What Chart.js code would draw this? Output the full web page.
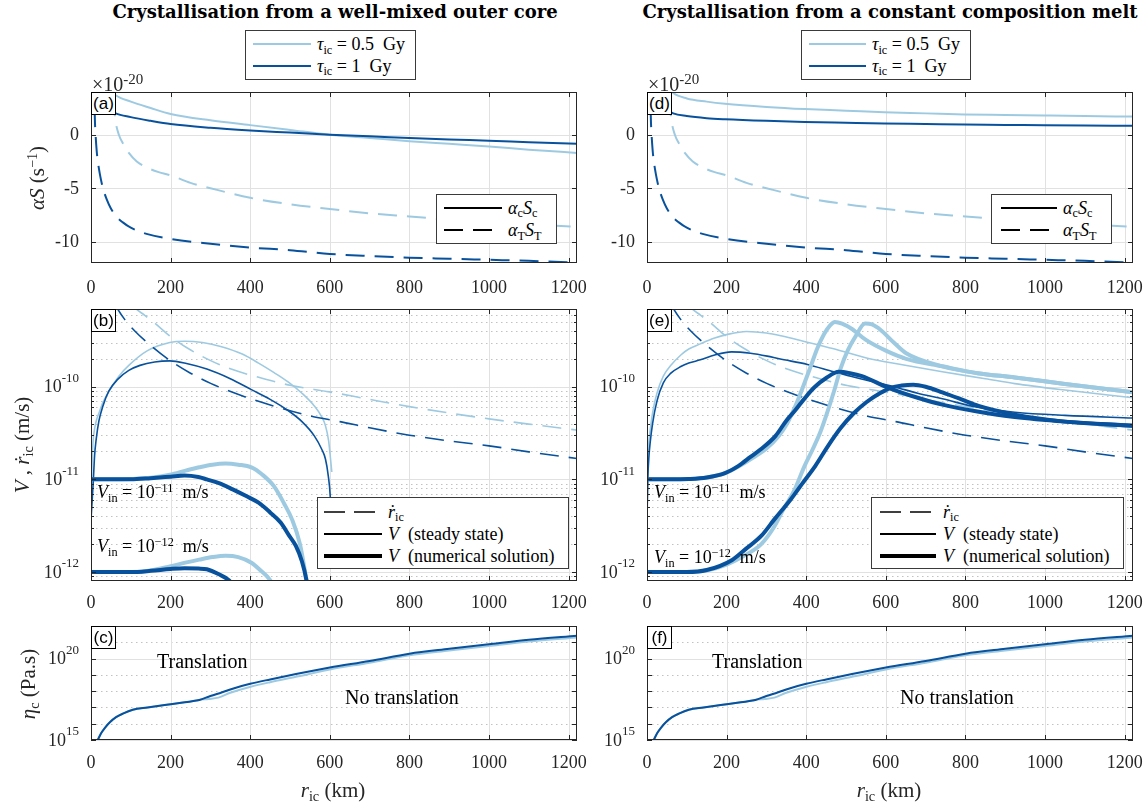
<!DOCTYPE html>
<html>
<meta charset="UTF-8">
<title>Inner core crystallisation</title>
<script src="https://cdn.jsdelivr.net/npm/chart.js"></script>
<style>
	html, body { margin: 0; padding: 0; background: #fff; overflow: hidden; }
	#fig { position: relative; width: 1147px; height: 807px; font-family: "Liberation Serif", serif; color: #262626; }
	#fig canvas { position: absolute; }
	.txt { position: absolute; white-space: nowrap; line-height: 1; }
	.mid { transform: translate(-50%, -50%); }
	.left { transform: translate(0, -50%); }
	.title { font-family: "DejaVu Serif", serif; font-weight: bold; font-size: 18px; color: #000; }
	.ylab { font-size: 21px; transform: translate(-50%, -50%) rotate(-90deg); }
	.xlab { font-size: 21px; }
	.mult { font-size: 20px; }
	.mult sup { font-size: 15px; top: -0.5em; }
	.note { font-size: 20px; color: #000; }
	.vin { font-size: 18px; color: #000; }
	.tag { position: absolute; background: #fff; border: 1px solid #000; box-sizing: border-box;
		font-family: "Liberation Sans", Arial, sans-serif; font-size: 17px; color: #000;
		text-align: center; line-height: 21px; }
	.leg { position: absolute; background: #fff; border: 1px solid #3a3a3a; box-sizing: border-box; }
	.leg svg { position: absolute; }
	.leg .lt { position: absolute; font-size: 18px; color: #000; white-space: nowrap; line-height: 1; transform: translate(0, -50%); }
	sub { font-size: 0.68em; position: relative; top: 0.3em; vertical-align: baseline; line-height: 0; font-style: normal; }
	sup { font-size: 0.68em; position: relative; top: -0.5em; vertical-align: baseline; line-height: 0; }
</style>

<body>
<div id="fig"></div>

<script>
	var DARK = '#08519c';
	var LIGHT = '#9ecae1';
	var rIc = 1221;
	var xTicks = [0, 200, 400, 600, 800, 1000, 1200];

	// ---- (a)/(d): alpha*S in units of 1e-20 s^-1 ----
	var aSolidX = [20, 40, 62, 100, 150, 200, 300, 400, 500, 600, 700, 800, 900, 1000, 1100, 1221];
	var aSolidLight = [5.5, 4.5, 3.7, 3.1, 2.5, 1.95, 1.35, 0.9, 0.45, 0.0, -0.3, -0.6, -0.85, -1.1, -1.4, -1.7];
	var aSolidDark = [3.0, 2.5, 2.0, 1.65, 1.3, 1.0, 0.65, 0.4, 0.2, 0.0, -0.15, -0.3, -0.45, -0.55, -0.7, -0.85];
	var dSolidX = [20, 40, 66, 100, 150, 196, 300, 396, 500, 596, 700, 797, 900, 997, 1100, 1221];
	var dSolidLight = [6.5, 5.0, 3.9, 3.4, 3.1, 2.9, 2.6, 2.4, 2.25, 2.1, 2.0, 1.9, 1.85, 1.8, 1.75, 1.7];
	var dSolidDark = [3.5, 2.6, 2.0, 1.75, 1.55, 1.45, 1.3, 1.2, 1.12, 1.05, 1.0, 0.95, 0.92, 0.88, 0.86, 0.85];
	var thermLightX = [55, 62, 70, 80, 95, 115, 142, 170, 200, 250, 300, 400, 500, 600, 700, 800, 900, 1000, 1100, 1221];
	var thermLight = [3.5, 1.2, 0.0, -0.8, -1.7, -2.5, -3.1, -3.5, -3.8, -4.5, -5.0, -5.9, -6.5, -6.95, -7.35, -7.65, -7.95, -8.2, -8.4, -8.6];
	var thermDarkX = [9, 10, 12, 15, 20, 25, 30, 40, 50, 65, 80, 100, 142, 200, 300, 400, 500, 600, 700, 800, 900, 1000, 1100, 1221];
	var thermDark = [2.5, 1.1, -0.3, -1.8, -3.2, -4.2, -5.0, -6.1, -6.9, -7.7, -8.2, -8.7, -9.3, -9.75, -10.2, -10.55, -10.8, -11.15, -11.35, -11.5, -11.6, -11.7, -11.8, -11.95];

	// ---- (b)/(e): velocities in m/s ----
	var rdotLightX = [105, 112, 135, 159, 201, 243, 302, 352, 419, 503, 599, 700, 800, 900, 1000, 1100, 1221];
	var rdotLight = [7.6e-10, 7.0e-10, 5.9e-10, 4.9e-10, 3.45e-10, 2.6e-10, 1.9e-10, 1.55e-10, 1.27e-10, 1.03e-10, 8.8e-11, 7.3e-11, 6.1e-11, 5.2e-11, 4.5e-11, 3.95e-11, 3.4e-11];
	var rdotDarkX = [60, 66, 85, 110, 151, 200, 250, 302, 386, 470, 554, 625, 700, 800, 900, 1000, 1100, 1221];
	var rdotDark = [7.8e-10, 7.0e-10, 5.3e-10, 4.0e-10, 2.76e-10, 1.9e-10, 1.4e-10, 1.08e-10, 7.8e-11, 6.0e-11, 4.8e-11, 4.2e-11, 3.6e-11, 3.0e-11, 2.6e-11, 2.3e-11, 1.98e-11, 1.68e-11];

	var bSsLightX = [0, 2, 5, 9, 14, 20, 30, 48, 70, 95, 142, 198, 235, 280, 328, 380, 421, 460, 496, 530, 561, 580, 589, 597, 605];
	var bSsLight = [3.7e-12, 1.2e-11, 2.5e-11, 3.5e-11, 4.4e-11, 5.2e-11, 6.8e-11, 9.3e-11, 1.3e-10, 1.7e-10, 2.45e-10, 3.0e-10, 3.1e-10, 3.0e-10, 2.7e-10, 2.25e-10, 1.8e-10, 1.42e-10, 1.12e-10, 8.5e-11, 6.2e-11, 4.7e-11, 3.8e-11, 2.6e-11, 1.2e-11];
	var bSsDarkX = [0, 3, 6, 9, 13, 20, 30, 45, 67, 95, 123, 160, 198, 240, 291, 350, 403, 450, 496, 530, 561, 580, 589, 596, 601, 604];
	var bSsDark = [3.7e-12, 6e-12, 1e-11, 1.8e-11, 2.7e-11, 4.3e-11, 6.2e-11, 9e-11, 1.2e-10, 1.5e-10, 1.7e-10, 1.85e-10, 1.9e-10, 1.78e-10, 1.55e-10, 1.22e-10, 9.3e-11, 7.3e-11, 5.5e-11, 4.2e-11, 2.95e-11, 2.1e-11, 1.66e-11, 1.1e-11, 6.6e-12, 3e-12];

	var bNum11LightX = [0, 50, 100, 150, 198, 240, 272, 305, 338, 370, 403, 430, 459, 485, 505, 525, 541, 552];
	var bNum11Light = [1e-11, 1e-11, 1.01e-11, 1.04e-11, 1.12e-11, 1.25e-11, 1.35e-11, 1.44e-11, 1.48e-11, 1.44e-11, 1.35e-11, 1.13e-11, 8.5e-12, 5.5e-12, 3.7e-12, 2.0e-12, 8.3e-13, 4e-13];
	var bNum11DarkX = [0, 100, 150, 200, 235, 270, 291, 325, 356, 390, 421, 450, 477, 497, 515, 530, 541, 552];
	var bNum11Dark = [1e-11, 1e-11, 1.03e-11, 1.07e-11, 1.1e-11, 1.06e-11, 1.0e-11, 9e-12, 7.8e-12, 6.6e-12, 5.6e-12, 4.4e-12, 3.4e-12, 2.5e-12, 1.9e-12, 1.3e-12, 8.3e-13, 4e-13];
	var bNum12LightX = [0, 100, 150, 198, 240, 272, 305, 338, 370, 403, 425, 449, 462];
	var bNum12Light = [1e-12, 1e-12, 1.04e-12, 1.15e-12, 1.27e-12, 1.36e-12, 1.45e-12, 1.5e-12, 1.45e-12, 1.26e-12, 1.05e-12, 8.3e-13, 6.5e-13];
	var bNum12DarkX = [0, 100, 150, 200, 235, 270, 291, 320, 347, 362];
	var bNum12Dark = [1e-12, 1e-12, 1.03e-12, 1.08e-12, 1.1e-12, 1.09e-12, 1.07e-12, 9.5e-13, 8.1e-13, 6.5e-13];

	var eSsLightX = [0, 2, 5, 8, 14, 25, 41, 60, 85, 105, 134, 170, 200, 250, 300, 342, 386, 469, 554, 638, 742, 850, 924, 1050, 1221];
	var eSsLight = [3.7e-12, 1.4e-11, 2.6e-11, 3.4e-11, 5.2e-11, 8.5e-11, 1.3e-10, 1.7e-10, 2.2e-10, 2.55e-10, 2.9e-10, 3.35e-10, 3.65e-10, 3.95e-10, 3.8e-10, 3.5e-10, 3.15e-10, 2.57e-10, 2.03e-10, 1.74e-10, 1.45e-10, 1.22e-10, 1.08e-10, 9.2e-11, 7.6e-11];
	var eSsDarkX = [0, 2, 5, 8, 14, 25, 41, 60, 85, 105, 134, 170, 212, 260, 302, 332, 403, 469, 512, 560, 620, 680, 742, 830, 924, 1050, 1221];
	var eSsDark = [3.7e-12, 1.0e-11, 1.8e-11, 2.5e-11, 4.0e-11, 7.0e-11, 1.1e-10, 1.4e-10, 1.65e-10, 1.8e-10, 1.95e-10, 2.2e-10, 2.38e-10, 2.3e-10, 2.14e-10, 2.0e-10, 1.74e-10, 1.45e-10, 1.3e-10, 1.15e-10, 1.0e-10, 8.5e-11, 7.4e-11, 6.0e-11, 5.3e-11, 4.9e-11, 4.6e-11];

	var eNum11LightX = [0, 60, 105, 150, 196, 230, 265, 300, 330, 352, 375, 394, 410, 428, 445, 460, 472, 490, 515, 550, 600, 651, 742, 830, 924, 1050, 1221];
	var eNum11Light = [1e-11, 1e-11, 1.01e-11, 1.05e-11, 1.17e-11, 1.38e-11, 1.7e-11, 2.15e-11, 2.9e-11, 4.0e-11, 6.5e-11, 1.05e-10, 1.6e-10, 2.6e-10, 3.7e-10, 4.6e-10, 5.0e-10, 4.8e-10, 4.2e-10, 3.2e-10, 2.45e-10, 2.0e-10, 1.66e-10, 1.4e-10, 1.26e-10, 1.07e-10, 8.7e-11];
	var eNum11DarkX = [0, 60, 105, 150, 196, 230, 260, 285, 323, 350, 373, 394, 420, 451, 482, 510, 540, 605, 680, 742, 830, 924, 1050, 1221];
	var eNum11Dark = [1e-11, 1e-11, 1.01e-11, 1.05e-11, 1.17e-11, 1.4e-11, 1.75e-11, 2.1e-11, 2.95e-11, 4.3e-11, 5.6e-11, 7.3e-11, 9.8e-11, 1.25e-10, 1.45e-10, 1.4e-10, 1.3e-10, 9.8e-11, 7.6e-11, 6.4e-11, 5.4e-11, 4.7e-11, 4.2e-11, 3.8e-11];
	var eNum12LightX = [0, 100, 150, 200, 250, 287, 320, 341, 370, 396, 416, 435, 451, 470, 487, 505, 524, 548, 565, 587, 620, 651, 742, 830, 924, 1050, 1221];
	var eNum12Light = [1e-12, 1e-12, 1.04e-12, 1.2e-12, 1.55e-12, 2.0e-12, 3.1e-12, 4.6e-12, 7.6e-12, 1.4e-11, 2.1e-11, 3.2e-11, 5.0e-11, 9.0e-11, 1.6e-10, 2.5e-10, 3.5e-10, 4.8e-10, 4.7e-10, 4.1e-10, 3.0e-10, 2.3e-10, 1.66e-10, 1.4e-10, 1.26e-10, 1.07e-10, 8.7e-11];
	var eNum12DarkX = [0, 100, 150, 214, 250, 287, 320, 360, 390, 423, 455, 487, 520, 551, 585, 614, 640, 669, 700, 742, 790, 833, 924, 1050, 1221];
	var eNum12Dark = [1e-12, 1e-12, 1.05e-12, 1.35e-12, 1.8e-12, 2.45e-12, 3.7e-12, 6.0e-12, 9.0e-12, 1.4e-11, 2.3e-11, 3.6e-11, 5.2e-11, 6.8e-11, 8.5e-11, 9.8e-11, 1.03e-10, 1.05e-10, 1.0e-10, 8.7e-11, 7.3e-11, 6.2e-11, 5.0e-11, 4.2e-11, 3.8e-11];

	// ---- (c)/(f): critical viscosity, log10(Pa.s) ----
	var etaDarkX = [17, 25, 35, 48, 63, 80, 105, 142, 200, 265, 272, 300, 328, 360, 400, 450, 515, 600, 700, 800, 900, 1000, 1100, 1221];
	var etaDarkLog = [15.0, 15.4, 15.75, 16.1, 16.4, 16.62, 16.86, 17.0, 17.2, 17.42, 17.46, 17.7, 17.92, 18.18, 18.45, 18.72, 19.05, 19.45, 19.85, 20.3, 20.6, 20.88, 21.15, 21.4];
	var etaLightX = [17, 25, 35, 48, 63, 80, 105, 142, 200, 265, 272, 295, 320, 350, 401, 450, 515, 600, 700, 800, 900, 1000, 1100, 1221];
	var etaLightLog = [15.0, 15.4, 15.75, 16.1, 16.4, 16.62, 16.86, 17.0, 17.2, 17.42, 17.46, 17.52, 17.6, 17.9, 18.27, 18.55, 18.88, 19.33, 19.75, 20.2, 20.5, 20.78, 21.05, 21.3];

	var fig = document.getElementById('fig');
	var YW = 70, PT = 6, PR = 14, XH = 40;
	var DASH = [19, 10];
	var TICKFONT = '18px "Liberation Serif"';

	function pts(xs, ys) {
		return xs.map(function (x, i) { return { x: x, y: ys[i] }; });
	}
	function ds(xs, ys, color, w, dash) {
		return {
			data: pts(xs, ys), borderColor: color, borderWidth: w, borderDash: dash || [],
			pointRadius: 0, fill: false, cubicInterpolationMode: 'monotone', clip: 0,
			borderCapStyle: 'butt', borderJoinStyle: 'round'
		};
	}
	function pow10(arr) { return arr.map(function (v) { return Math.pow(10, v); }); }

	function decades(lo, hi) {
		var out = [];
		for (var e = lo; e <= hi; e++) out.push(Math.pow(10, e));
		return out;
	}
	function minors(lo, hi, min, max) {
		var out = [];
		for (var e = lo; e <= hi; e++)
			for (var k = 2; k <= 9; k++) {
				var v = k * Math.pow(10, e);
				if (v > min && v < max) out.push(v);
			}
		return out;
	}

	// axes box, grid, inward ticks and tick labels
	var frame = {
		id: 'frame',
		beforeDatasetsDraw: function (chart, args, o) {
			var ctx = chart.ctx, a = chart.chartArea, xs = chart.scales.x, ys = chart.scales.y;
			ctx.save();
			ctx.lineWidth = 1;
			ctx.strokeStyle = '#c2c2c2';
			ctx.setLineDash([1.5, 3.5]);
			(o.yMinor || []).concat(o.yMinorGrid || []).forEach(function (v) {
				var y = Math.round(ys.getPixelForValue(v)) + 0.5;
				ctx.beginPath(); ctx.moveTo(a.left, y); ctx.lineTo(a.right, y); ctx.stroke();
			});
			ctx.setLineDash([]);
			ctx.strokeStyle = '#e1e1e1';
			xTicks.forEach(function (v) {
				var x = Math.round(xs.getPixelForValue(v)) + 0.5;
				ctx.beginPath(); ctx.moveTo(x, a.top); ctx.lineTo(x, a.bottom); ctx.stroke();
			});
			o.yMajor.forEach(function (v) {
				var y = Math.round(ys.getPixelForValue(v)) + 0.5;
				ctx.beginPath(); ctx.moveTo(a.left, y); ctx.lineTo(a.right, y); ctx.stroke();
			});
			ctx.restore();
		},
		afterDatasetsDraw: function (chart, args, o) {
			var ctx = chart.ctx, a = chart.chartArea, xs = chart.scales.x, ys = chart.scales.y;
			ctx.save();
			ctx.strokeStyle = '#262626';
			ctx.lineWidth = 1;
			ctx.strokeRect(a.left + 0.5, a.top + 0.5, a.right - a.left - 1, a.bottom - a.top - 1);
			ctx.beginPath();
			xTicks.forEach(function (v) {
				var x = Math.round(xs.getPixelForValue(v)) + 0.5;
				ctx.moveTo(x, a.bottom); ctx.lineTo(x, a.bottom - 5);
				ctx.moveTo(x, a.top); ctx.lineTo(x, a.top + 5);
			});
			o.yMajor.concat(o.yMinorGrid || []).forEach(function (v) {
				var y = Math.round(ys.getPixelForValue(v)) + 0.5;
				ctx.moveTo(a.left, y); ctx.lineTo(a.left + 5, y);
				ctx.moveTo(a.right, y); ctx.lineTo(a.right - 5, y);
			});
			(o.yMinor || []).forEach(function (v) {
				var y = Math.round(ys.getPixelForValue(v)) + 0.5;
				ctx.moveTo(a.left, y); ctx.lineTo(a.left + 3, y);
				ctx.moveTo(a.right, y); ctx.lineTo(a.right - 3, y);
			});
			ctx.stroke();

			ctx.fillStyle = '#262626';
			ctx.font = TICKFONT;
			ctx.textAlign = 'center';
			ctx.textBaseline = 'middle';
			xTicks.forEach(function (v) {
				ctx.fillText(String(v), xs.getPixelForValue(v), a.bottom + o.xLabelDy);
			});
			ctx.textAlign = 'right';
			o.yLabels.forEach(function (l) {
				var y = ys.getPixelForValue(l.v), xr = a.left - 12;
				if (l.e) {
					ctx.font = '13px "Liberation Serif"';
					var we = ctx.measureText(l.e).width;
					ctx.fillText(l.e, xr, y - 8);
					ctx.font = TICKFONT;
					ctx.fillText('10', xr - we, y + 1);
				} else {
					ctx.font = TICKFONT;
					ctx.fillText(l.t, xr, y + 1);
				}
			});
			ctx.restore();
		}
	};

	function panel(rect, datasets, yScale, deco) {
		var w = rect.R - rect.L + YW + PR, h = rect.B - rect.T + PT + XH;
		var c = document.createElement('canvas');
		c.width = w; c.height = h;
		c.style.left = (rect.L - YW) + 'px';
		c.style.top = (rect.T - PT) + 'px';
		fig.appendChild(c);
		yScale.afterFit = function (s) { s.width = YW; };
		yScale.ticks = { display: false };
		yScale.grid = { display: false, drawTicks: false };
		yScale.border = { display: false };
		new Chart(c, {
			type: 'line',
			data: { datasets: datasets },
			options: {
				responsive: false, animation: false, events: [],
				layout: { padding: { top: PT, right: PR, left: 0, bottom: 0 } },
				scales: {
					x: {
						type: 'linear', min: 0, max: rIc,
						afterFit: function (s) { s.height = XH; },
						ticks: { display: false }, grid: { display: false, drawTicks: false }, border: { display: false }
					},
					y: yScale
				},
				plugins: { legend: { display: false }, tooltip: { enabled: false }, frame: deco }
			},
			plugins: [frame]
		});
	}

	function txt(html, x, y, cls) {
		var d = document.createElement('div');
		d.className = 'txt ' + cls;
		d.innerHTML = html;
		d.style.left = x + 'px';
		d.style.top = y + 'px';
		fig.appendChild(d);
		return d;
	}
	function tag(label, x, y) {
		var d = document.createElement('div');
		d.className = 'tag';
		d.textContent = label;
		d.style.left = x + 'px'; d.style.top = y + 'px';
		d.style.width = '25px'; d.style.height = '23px';
		fig.appendChild(d);
	}
	function legend(box, x1, x2, tx, rows) {
		var d = document.createElement('div');
		d.className = 'leg';
		d.style.left = box[0] + 'px'; d.style.top = box[1] + 'px';
		d.style.width = (box[2] - box[0]) + 'px'; d.style.height = (box[3] - box[1]) + 'px';
		rows.forEach(function (r) {
			var len = x2 - x1;
			var s = '<svg width="' + len + '" height="10" style="left:' + (x1 - box[0] - 1) + 'px;top:' + (r.y - box[1] - 6) + 'px">' +
				'<line x1="0" y1="5" x2="' + len + '" y2="5" stroke="' + r.color + '" stroke-width="' + r.w + '"' +
				(r.dash ? ' stroke-dasharray="' + r.dash.join(',') + '"' : '') + '/></svg>' +
				'<div class="lt" style="left:' + (tx - box[0] - 1) + 'px;top:' + (r.y - box[1] - 1) + 'px">' + r.html + '</div>';
			d.insertAdjacentHTML('beforeend', s);
		});
		fig.appendChild(d);
	}

	var colL = { L: 91, R: 577 }, colR = { L: 647, R: 1133 };
	var rowA = { T: 92, B: 263 }, rowB = { T: 309, B: 581 }, rowC = { T: 626, B: 740 };
	function rect(col, row) { return { L: col.L, R: col.R, T: row.T, B: row.B }; }

	// ---- row (a)/(d) ----
	var decoA = {
		yMajor: [-10, -5, 0], xLabelDy: 25,
		yLabels: [{ v: 0, t: '0' }, { v: -5, t: '-5' }, { v: -10, t: '-10' }]
	};
	panel(rect(colL, rowA), [
		ds(aSolidX, aSolidDark, DARK, 2),
		ds(aSolidX, aSolidLight, LIGHT, 2),
		ds(thermDarkX, thermDark, DARK, 2, DASH),
		ds(thermLightX, thermLight, LIGHT, 2, DASH)
	], { type: 'linear', min: -12, max: 4 }, decoA);
	panel(rect(colR, rowA), [
		ds(dSolidX, dSolidDark, DARK, 2),
		ds(dSolidX, dSolidLight, LIGHT, 2),
		ds(thermDarkX, thermDark, DARK, 2, DASH),
		ds(thermLightX, thermLight, LIGHT, 2, DASH)
	], { type: 'linear', min: -12, max: 4 }, decoA);

	// ---- row (b)/(e) ----
	var vMin = 8e-13, vMax = 6.9e-10;
	var decoB = {
		yMajor: decades(-12, -10), yMinor: minors(-13, -10, vMin, vMax), xLabelDy: 22,
		yLabels: [{ v: 1e-12, e: '-12' }, { v: 1e-11, e: '-11' }, { v: 1e-10, e: '-10' }]
	};
	panel(rect(colL, rowB), [
		ds(bNum11DarkX, bNum11Dark, DARK, 4),
		ds(bNum12DarkX, bNum12Dark, DARK, 4),
		ds(bNum11LightX, bNum11Light, LIGHT, 4),
		ds(bNum12LightX, bNum12Light, LIGHT, 4),
		ds(rdotDarkX, rdotDark, DARK, 1.6, DASH),
		ds(rdotLightX, rdotLight, LIGHT, 1.6, DASH),
		ds(bSsDarkX, bSsDark, DARK, 1.6),
		ds(bSsLightX, bSsLight, LIGHT, 1.6)
	], { type: 'logarithmic', min: vMin, max: vMax }, decoB);
	panel(rect(colR, rowB), [
		ds(eNum11DarkX, eNum11Dark, DARK, 4),
		ds(eNum12DarkX, eNum12Dark, DARK, 4),
		ds(eNum11LightX, eNum11Light, LIGHT, 4),
		ds(eNum12LightX, eNum12Light, LIGHT, 4),
		ds(eSsDarkX, eSsDark, DARK, 1.6),
		ds(eSsLightX, eSsLight, LIGHT, 1.6),
		ds(rdotDarkX, rdotDark, DARK, 1.6, DASH),
		ds(rdotLightX, rdotLight, LIGHT, 1.6, DASH)
	], { type: 'logarithmic', min: vMin, max: vMax }, decoB);

	// ---- row (c)/(f) ----
	var decoC = {
		yMajor: [1e15, 1e20], yMinorGrid: [1e16, 1e17, 1e18, 1e19, 1e21], xLabelDy: 23,
		yLabels: [{ v: 1e15, e: '15' }, { v: 1e20, e: '20' }]
	};
	[colL, colR].forEach(function (col) {
		panel(rect(col, rowC), [
			ds(etaDarkX, pow10(etaDarkLog), DARK, 2),
			ds(etaLightX, pow10(etaLightLog), LIGHT, 2)
		], { type: 'logarithmic', min: 1e15, max: 1e22 }, decoC);
	});

	// ---- text ----
	txt('Crystallisation from a well-mixed outer core', 335, 12, 'title mid');
	txt('Crystallisation from a constant composition melt', 890, 12, 'title mid');

	var tauRows = [
		{ y: 44, color: LIGHT, w: 2, html: '<i>τ</i><sub>ic</sub> = 0.5&nbsp; Gy' },
		{ y: 65.5, color: DARK, w: 2, html: '<i>τ</i><sub>ic</sub> = 1&nbsp; Gy' }
	];
	legend([245, 30, 416, 80], 253, 311, 317, tauRows);
	legend([801, 30, 971, 80], 809, 866, 872, tauRows);

	txt('×10<sup>-20</sup>', 92, 84, 'mult left');
	txt('×10<sup>-20</sup>', 648, 84, 'mult left');

	var alphaRows = [
		{ y: 207.7, color: '#000', w: 2, html: '<i>α<sub>c</sub>S<sub>c</sub></i>' },
		{ y: 230, color: '#000', w: 2, dash: DASH, html: '<i>α<sub>T</sub>S<sub>T</sub></i>' }
	];
	legend([436, 194, 557, 244], 444, 502, 508, alphaRows);
	legend([991, 194, 1112, 244], 1001, 1057, 1063, alphaRows);

	var velRows = [
		{ y: 511.7, color: '#000', w: 1.6, dash: [21, 9], html: '<i>ṙ</i><sub>ic</sub>' },
		{ y: 534, color: '#000', w: 2, html: '<i>V</i>&nbsp; (steady state)' },
		{ y: 555.7, color: '#000', w: 4, html: '<i>V</i>&nbsp; (numerical solution)' }
	];
	legend([317, 497, 569, 569], 324, 382, 388, velRows);
	legend([871, 497, 1124, 569], 880, 936, 943, velRows);

	var vin11 = '<i>V</i><sub>in</sub> = 10<sup>−11</sup>&nbsp; m/s';
	var vin12 = '<i>V</i><sub>in</sub> = 10<sup>−12</sup>&nbsp; m/s';
	txt(vin11, 97, 492, 'vin left');
	txt(vin12, 97, 546, 'vin left');
	txt(vin11, 654, 492, 'vin left');
	txt(vin12, 654, 557, 'vin left');

	txt('Translation', 157, 661, 'note left');
	txt('No translation', 345, 697, 'note left');
	txt('Translation', 712, 661, 'note left');
	txt('No translation', 900, 697, 'note left');

	tag('(a)', 91, 92); tag('(b)', 91, 309); tag('(c)', 91, 626);
	tag('(d)', 647, 92); tag('(e)', 647, 309); tag('(f)', 647, 626);

	txt('<i>αS</i> (s<sup>−1</sup>)', 37, 178, 'ylab');
	txt('<i>V</i> , <i>ṙ</i><sub>ic</sub> (m/s)', 22, 445, 'ylab');
	txt('<i>η<sub>c</sub></i> (Pa.s)', 28, 684, 'ylab');
	txt('<i>r<sub>ic</sub></i> (km)', 333, 790, 'xlab mid');
	txt('<i>r<sub>ic</sub></i> (km)', 889, 790, 'xlab mid');
</script>
</body>

</html>
